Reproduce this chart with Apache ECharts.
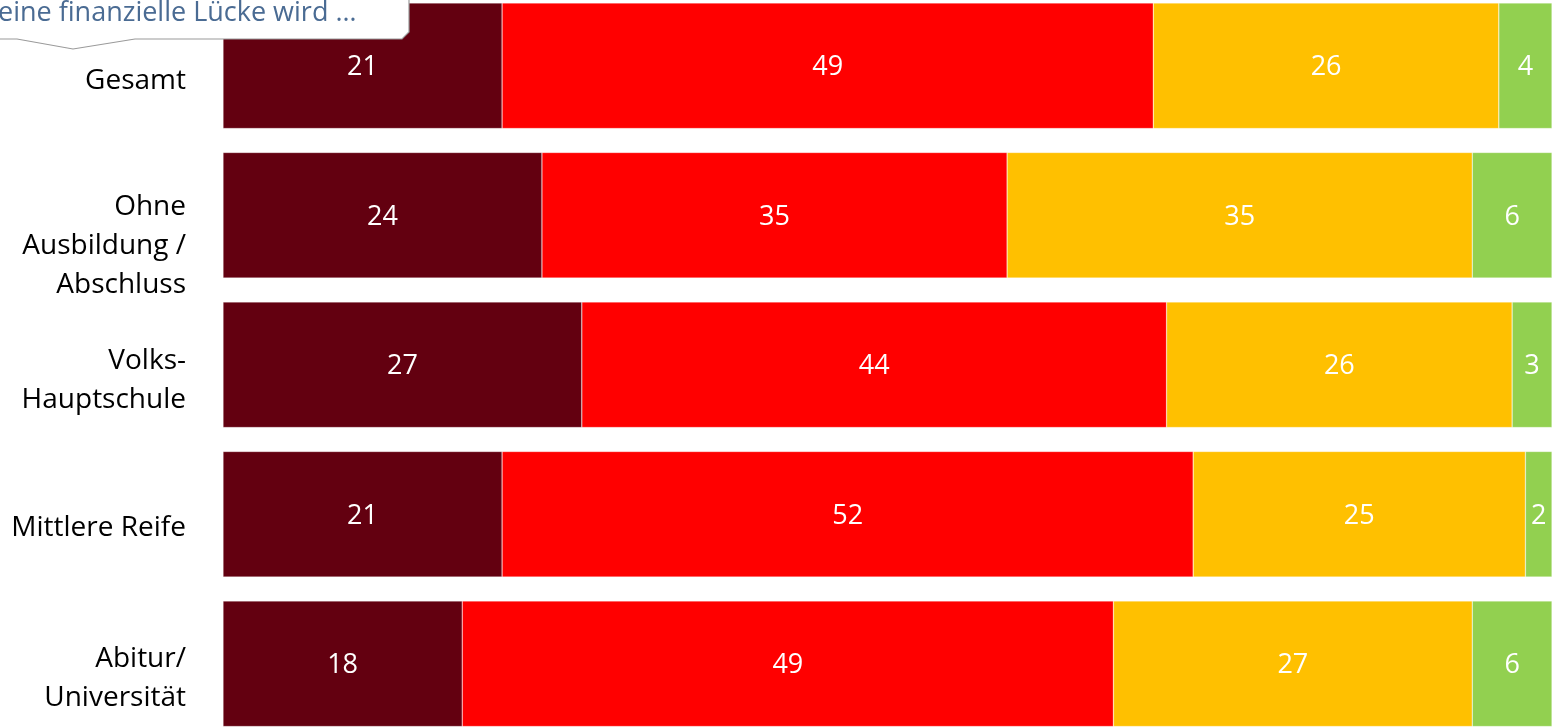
<!DOCTYPE html>
<html><head><meta charset="utf-8">
<script src="https://cdn.jsdelivr.net/npm/echarts@6/dist/echarts.min.js"></script>
<style>html,body{margin:0;padding:0;background:#fff;overflow:hidden;width:1554px;height:727px;position:relative;}#c{position:absolute;left:0;top:-9px;width:1554px;height:748px;}</style>
</head><body><div id="c"></div>
<script>
const categories = ["Gesamt", "Ohne\nAusbildung /\nAbschluss", "Volks-\nHauptschule", "Mittlere Reife", "Abitur/\nUniversität"];
const seriesNames = ["s1", "s2", "s3", "s4"];
const s1 = [21, 24, 27, 21, 18];
const s2 = [49, 35, 44, 52, 49];
const s3 = [26, 35, 26, 25, 27];
const s4 = [4, 6, 3, 2, 6];
const colors = ["#630010", "#FF0000", "#FFC000", "#92D050"];
const calloutText = "eine finanzielle Lücke wird …";

const chart = echarts.init(document.getElementById('c'));
const font = "'Open Sans', 'Noto Sans', sans-serif";
const allData = [s1, s2, s3, s4];
const labelSpacer = [30, 62, 32, 28, 30];
const rich = {t: {fontSize: 28, lineHeight: 39, color: '#000', fontFamily: font}};
labelSpacer.forEach((h, i) => { rich['sp' + i] = {fontSize: 1, lineHeight: h}; });
chart.setOption({
  animation: false,
  grid: {left: 223, right: 2, top: 0, bottom: 0.5, containLabel: false},
  xAxis: {type: 'value', min: 0, max: 100, show: false},
  yAxis: {type: 'category', inverse: true, data: categories,
    axisLine: {show: false}, axisTick: {show: false}, splitLine: {show: false},
    axisLabel: {margin: 37, align: 'right', rich: rich,
      formatter: (v, i) => '{sp' + i + '| }\n' + v.split('\n').map(l => '{t|' + l + '}').join('\n')}},
  series: allData.map((d, i) => ({
    name: seriesNames[i], type: 'bar', stack: 'total', data: d,
    barCategoryGap: '16%',
    itemStyle: {color: colors[i], borderColor: 'rgba(255,255,255,0.6)', borderWidth: 0.5},
    label: {show: true, position: 'inside', offset: [0, 2], color: '#fff', fontSize: 27, fontFamily: font}
  })),
  graphic: [
    {type: 'polygon', z: 100, shape: {points: [[-10, -1], [409, -1], [409, 41], [402, 48], [135, 48], [73, 58], [17, 48], [-10, 48]]},
      style: {fill: '#fff', stroke: '#9a9a9a', lineWidth: 1.2}},
    {type: 'text', z: 101, left: -2, top: 9, style: {text: calloutText, fill: '#4A6B93', fontSize: 27, fontFamily: font}}
  ]
});
</script></body></html>
